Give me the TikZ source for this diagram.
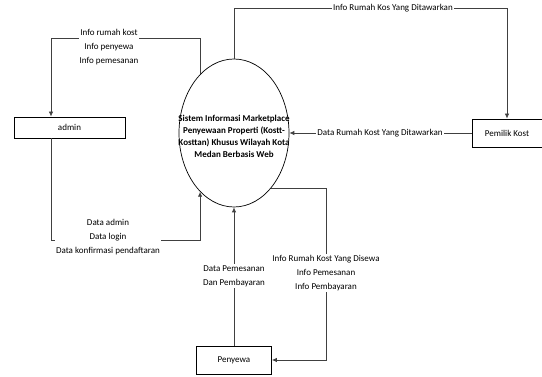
\documentclass[tikz,border=0pt]{standalone}
\usepackage{fontspec}
\setmainfont{Carlito}
\usetikzlibrary{shapes.geometric,arrows.meta}

\begin{document}
\begin{tikzpicture}[x=1pt,y=-1pt,
    entitas/.style={draw,line width=0.8pt,inner sep=0pt,font=\fontsize{9}{11}\selectfont},
    proses/.style={draw,ellipse,line width=0.7pt,inner sep=0pt,minimum width=110pt,minimum height=148pt},
    alir/.style={draw=black!75,line width=0.8pt,-{Latex[length=5pt,width=4.5pt]}},
    ket/.style={fill=white,align=center,inner sep=1pt,font=\fontsize{9}{14}\selectfont}]
  \useasboundingbox (0,0) rectangle (542,377);

  % entitas dan proses
  \node[proses] (sistem) at (234,133) {};
  \node[align=center,font=\fontsize{9}{12}\selectfont\bfseries] (sistemteks) at (234,136)
    {Sistem Informasi Marketplace\\Penyewaan Properti (Kostt-\\Kosttan) Khusus Wilayah Kota\\Medan Berbasis Web};
  \node[entitas,minimum width=111pt,minimum height=21pt] (admin) at (69.5,127.5) {admin};
  \node[entitas,minimum width=70pt,minimum height=28pt] (pemilik) at (507,133) {Pemilik Kost};
  \node[entitas,minimum width=75pt,minimum height=28pt] (penyewa) at (234,360) {Penyewa};

  % titik belok
  \coordinate (kiriatas) at (51,38);
  \coordinate (kiribawah) at (51,240);
  \coordinate (atas) at (0,8);
  \coordinate (kanan) at (326,0);

  % alir admin
  \draw[alir] (sistem.120) |- (kiriatas) -- (kiriatas |- admin.north);
  \draw[alir] (kiribawah |- admin.south) -- (kiribawah) -| (sistem.240);

  % alir pemilik kost
  \draw[alir] (sistem.north) -- (sistem.north |- atas) -| (pemilik.north);
  \draw[alir] (pemilik.west) -- (sistem.east);

  % alir penyewa
  \draw[alir] (sistem.-56) -| (kanan |- penyewa.east) -- (penyewa.east);
  \draw[alir] (penyewa.north) -- (sistem.south);

  % keterangan
  \node[ket] (ketadmin1) at (109,47) {Info rumah kost\\Info penyewa\\Info pemesanan};
  \node[ket] (ketadmin2) at (108,237) {Data admin\\Data login\\Data konfirmasi pendaftaran};
  \node[ket] (ketpemilik1) at (393,8) {Info Rumah Kos Yang Ditawarkan};
  \node[ket] (ketpemilik2) at (380,133) {Data Rumah Kost Yang Ditawarkan};
  \node[ket] (ketpenyewa1) at (326,273) {Info Rumah Kost Yang Disewa\\Info Pemesanan\\Info Pembayaran};
  \node[ket] (ketpenyewa2) at (234,276) {Data Pemesanan\\Dan Pembayaran};
\end{tikzpicture}
\end{document}
